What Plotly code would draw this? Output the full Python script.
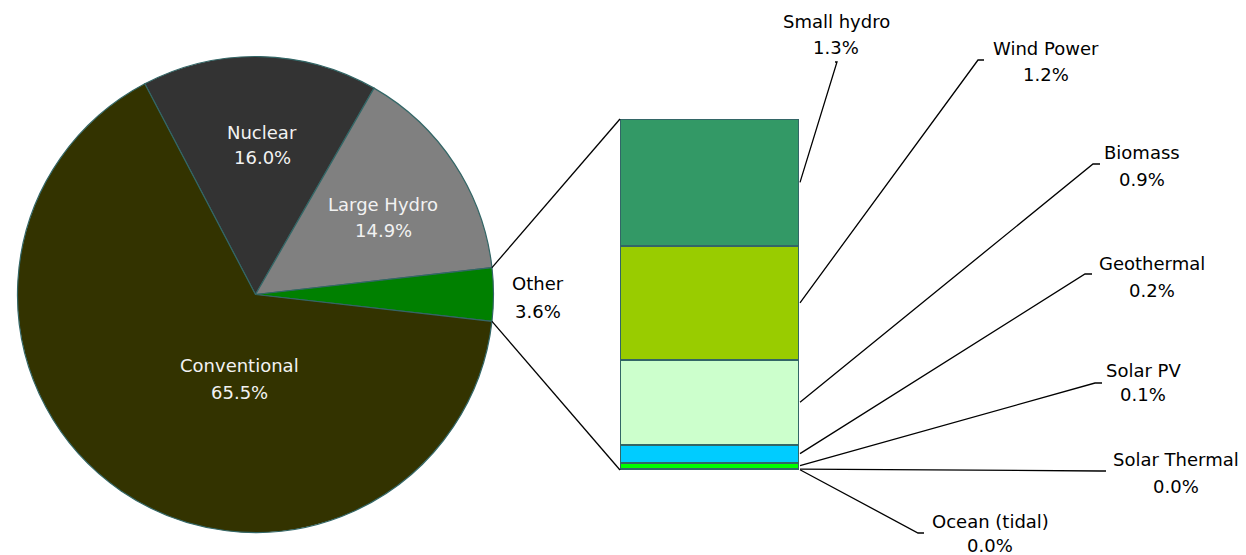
import math

import plotly.graph_objects as go

# Main pie data (clockwise from the top-left edge of Nuclear)
pie_labels = ["Nuclear", "Large Hydro", "Other", "Conventional"]
pie_values = [16.0, 14.9, 3.6, 65.5]
pie_colors = ["#333333", "#808080", "#008000", "#333300"]
pie_text_colors = ["#F2F2F2", "#F2F2F2", "#000000", "#F2F2F2"]

# Breakdown of "Other" (stacked bottom-up)
bar_labels = ["Ocean (tidal)", "Solar Thermal", "Solar PV", "Geothermal", "Biomass", "Wind Power", "Small hydro"]
bar_values = [0.005, 0.01, 0.06, 0.185, 0.87, 1.17, 1.30]
bar_colors = ["#006666", "#339999", "#00FF00", "#00CCFF", "#CCFFCC", "#99CC00", "#339966"]

# Layout helpers (pixels -> paper)
W, H = 1246, 555
FONT = "DejaVu Sans"


def px(x):
    return x / W


def py(y):
    return 1 - y / H


# Pie geometry
cx, cy, R = 255.5, 294.5, 238
other_idx = pie_labels.index("Other")
total_pie = sum(pie_values)
deg_before = sum(pie_values[:other_idx]) / total_pie * 360
deg_other = pie_values[other_idx] / total_pie * 360
rotation = 90 - (deg_before + deg_other / 2)  # centre "Other" on the right

# Bar geometry (pixels)
bar_x0, bar_x1, bar_top, bar_bot = 620, 799, 119, 470
total_bar = sum(bar_values)

fig = go.Figure()

fig.add_trace(
    go.Pie(
        labels=pie_labels,
        values=pie_values,
        sort=False,
        direction="clockwise",
        rotation=rotation,
        marker=dict(colors=pie_colors, line=dict(color="#336666", width=1.2)),
        textinfo="none",
        hoverinfo="label+percent",
        domain=dict(x=[px(cx - R), px(cx + R)], y=[py(cy + R), py(cy - R)]),
        showlegend=False,
    )
)

for lab, val, col in zip(bar_labels, bar_values, bar_colors):
    fig.add_trace(
        go.Bar(
            x=[0],
            y=[val],
            name=lab,
            marker=dict(color=col, line=dict(color="#336666", width=2)),
            hovertemplate=f"{lab}: {val:.1f}%<extra></extra>",
            showlegend=False,
        )
    )

fig.update_layout(
    width=W,
    height=H,
    margin=dict(l=0, r=0, t=0, b=0),
    paper_bgcolor="white",
    plot_bgcolor="white",
    barmode="stack",
    bargap=0,
    xaxis=dict(domain=[px(bar_x0), px(bar_x1)], range=[-0.5, 0.5], visible=False, fixedrange=True),
    yaxis=dict(domain=[py(bar_bot), py(bar_top)], range=[0, total_bar], visible=False, fixedrange=True),
)

shapes = []

# Connector lines between the "Other" slice and the bar
for ang, corner_y in [(rotation + deg_before, bar_top), (rotation + deg_before + deg_other, bar_bot)]:
    a = math.radians(ang)
    ex, ey = cx + R * math.sin(a), cy - R * math.cos(a)
    shapes.append(
        dict(type="line", xref="paper", yref="paper",
             x0=px(ex), y0=py(ey), x1=px(bar_x0), y1=py(corner_y),
             line=dict(color="black", width=1.3))
    )

# Bar label positions: (centre x, name y, value y) and leader elbow / end
bar_label_pos = {
    "Small hydro": (836, 21, 47, (837, 62), (835, 62)),
    "Wind Power": (1046, 48, 75, (978, 60), (984, 60)),
    "Biomass": (1142, 152, 179, (1093, 164), (1100, 164)),
    "Geothermal": (1152, 263, 290, (1085, 274), (1092, 274)),
    "Solar PV": (1143, 370, 395, (1095, 383), (1102, 383)),
    "Solar Thermal": (1176, 459, 486, (1100, 471), (1106, 471)),
    "Ocean (tidal)": (990, 521, 545, (918, 533), (924, 533)),
}

annotations = []
cum = 0
for lab, val in zip(bar_labels, bar_values):
    mid = cum + val / 2
    cum += val
    y_start = bar_bot - mid / total_bar * (bar_bot - bar_top)
    x_lab, y_name, y_val, elbow, end = bar_label_pos[lab]
    path = "M {},{} L {},{} L {},{}".format(
        px(bar_x1 + 1), py(y_start), px(elbow[0]), py(elbow[1]), px(end[0]), py(end[1])
    )
    shapes.append(dict(type="path", xref="paper", yref="paper", path=path,
                       line=dict(color="black", width=1.3)))
    for txt, yy in [(lab, y_name), (f"{val:.1f}%", y_val)]:
        annotations.append(
            dict(x=px(x_lab), y=py(yy), xref="paper", yref="paper", text=txt,
                 showarrow=False, xanchor="center", yanchor="middle",
                 font=dict(family=FONT, size=18, color="black"))
        )

# Pie labels
pie_label_pos = {
    "Nuclear": (262, 132, 157),
    "Large Hydro": (383, 204, 231),
    "Other": (538, 283, 311),
    "Conventional": (239, 365, 392),
}
for lab, val, tcol in zip(pie_labels, pie_values, pie_text_colors):
    x_lab, y_name, y_val = pie_label_pos[lab]
    for txt, yy in [(lab, y_name), (f"{val / total_pie * 100:.1f}%", y_val)]:
        annotations.append(
            dict(x=px(x_lab), y=py(yy), xref="paper", yref="paper", text=txt,
                 showarrow=False, xanchor="center", yanchor="middle",
                 font=dict(family=FONT, size=18, color=tcol))
        )

fig.update_layout(shapes=shapes, annotations=annotations)

# Remove the default page margin so the figure fills the window
fig.write_html(
    "out.html",
    config={"displayModeBar": False},
    post_script="document.body.style.margin = '0';",
)
